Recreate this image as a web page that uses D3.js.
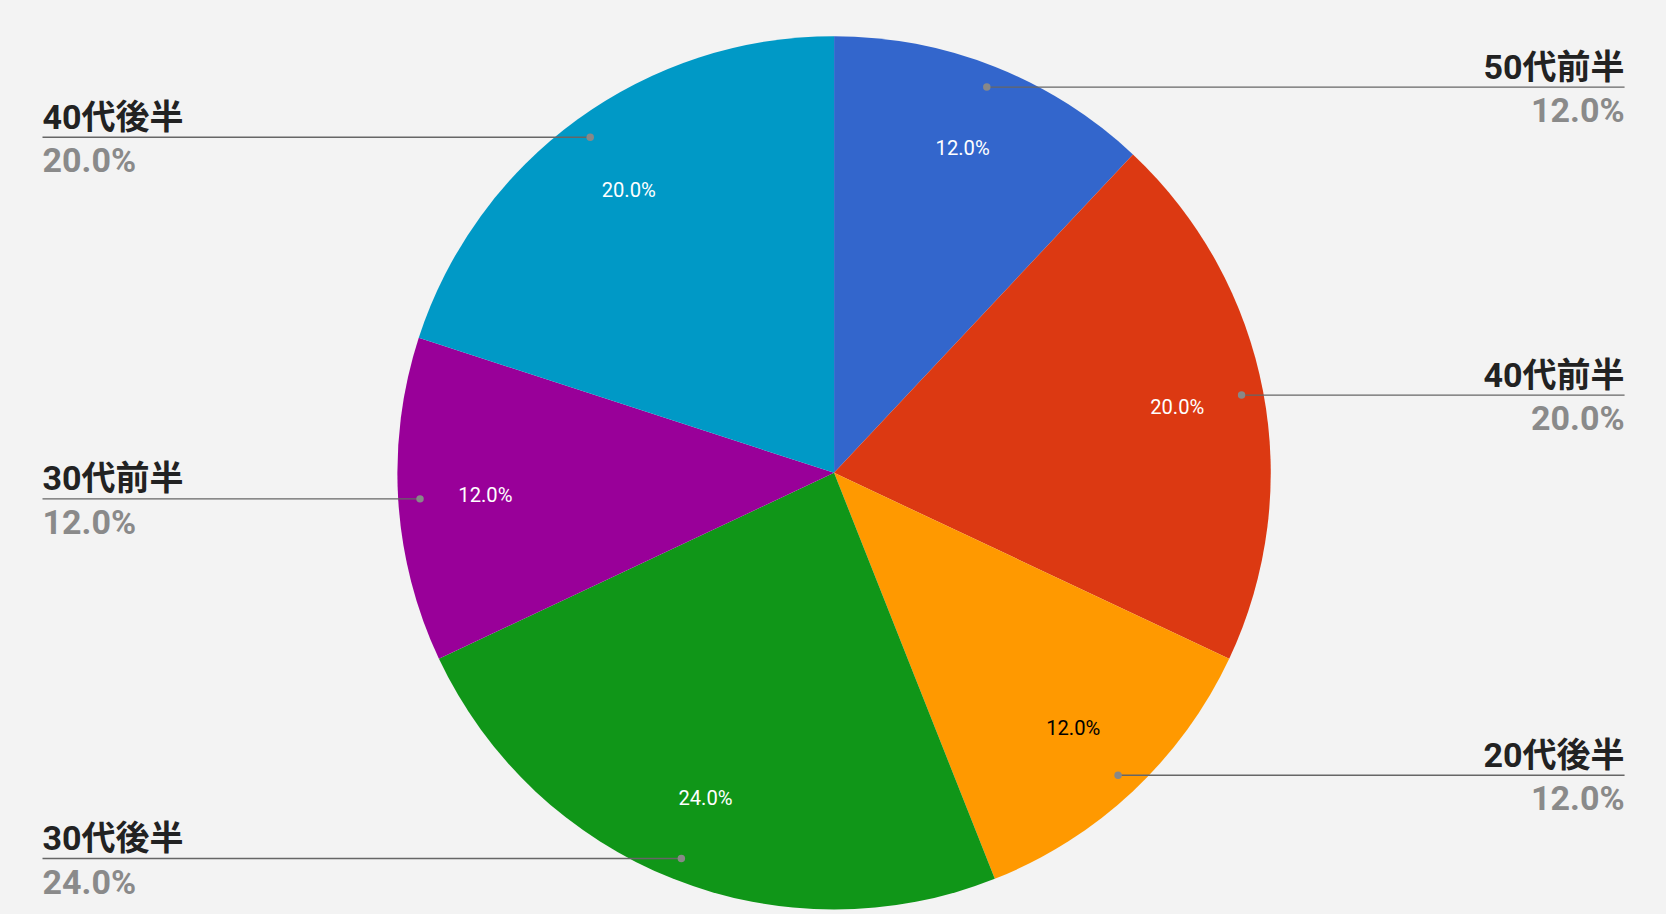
<!DOCTYPE html>
<html><head><meta charset="utf-8">
<script src="https://cdn.jsdelivr.net/npm/d3@7"></script>
<style>body{margin:0;background:#f3f3f3;}svg{display:block;}</style>
</head><body>
<script>
const categories = ["50代前半","40代前半","20代後半","30代後半","30代前半","40代後半"];
const values = [12,20,12,24,12,20];
const colors = ["#3366cc","#dc3912","#ff9900","#109618","#990099","#0099c6"];
const W=1666,H=914,s=W/1568;
const svg=d3.select("body").append("svg").attr("width",W).attr("height",H);
svg.append("rect").attr("width",W).attr("height",H).attr("fill","#f3f3f3");
const g=svg.append("g").attr("transform",`scale(${s})`);
const cx=785,cy=445,R=411;
const total=d3.sum(values);
const pie=d3.pie().sort(null)(values);
const arc=d3.arc().innerRadius(0).outerRadius(R);
const pg=g.append("g").attr("transform",`translate(${cx},${cy})`);
pg.selectAll("path").data(pie).join("path").attr("d",arc).attr("fill",(d,i)=>colors[i]);
const fmt=v=>(v/total*100).toFixed(1)+"%";
pg.selectAll("text.in").data(pie).join("text").attr("class","in")
 .attr("x",d=>{const a=(d.startAngle+d.endAngle)/2;return Math.sin(a)*R*0.8;})
 .attr("y",d=>{const a=(d.startAngle+d.endAngle)/2;return -Math.cos(a)*R*0.8;})
 .attr("text-anchor","middle").attr("dy","0.35em")
 .attr("font-family","Roboto").attr("font-size",19)
 .attr("fill",(d,i)=>i==2?"#000":"#fff").text(d=>fmt(d.data));
pie.forEach((d,i)=>{
 const a=(d.startAngle+d.endAngle)/2;
 const dx=cx+Math.sin(a)*R*0.95, dy=cy-Math.cos(a)*R*0.95;
 const right=Math.sin(a)>0;
 const x2=right?1529:40;
 g.append("line").attr("x1",dx).attr("y1",dy).attr("x2",x2).attr("y2",dy).attr("stroke","#666").attr("stroke-width",1.3);
 g.append("circle").attr("cx",dx).attr("cy",dy).attr("r",3.5).attr("fill","#888");
 const anchor=right?"end":"start";
 g.append("text").attr("x",x2).attr("y",dy-8).attr("text-anchor",anchor)
  .attr("font-family","Roboto, 'Noto Sans CJK JP'").attr("font-weight","bold").attr("font-size",32).attr("fill","#222").text(categories[i]);
 g.append("text").attr("x",x2).attr("y",dy+33).attr("text-anchor",anchor)
  .attr("font-family","Roboto, 'Noto Sans CJK JP'").attr("font-weight","bold").attr("font-size",32).attr("fill","#8a8a8a").text(fmt(values[i]));
});
</script>
</body></html>
